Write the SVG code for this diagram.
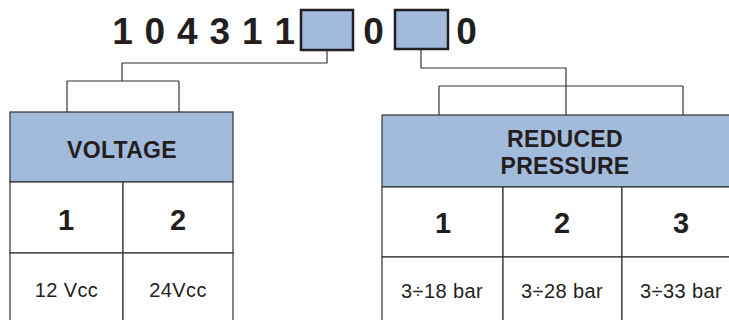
<svg xmlns="http://www.w3.org/2000/svg" width="729" height="320" viewBox="0 0 729 320">
<style>
.code{font-family:"Liberation Sans",Arial,sans-serif;font-weight:bold;font-size:37px;fill:#231f20;letter-spacing:0.8px}
.box{fill:#a2bbdb;stroke:#231f20;stroke-width:2.5}
.hdr{fill:#a2bbdb;stroke:#333;stroke-width:1.2}
.cell{fill:#fff;stroke:#333;stroke-width:1.2}
.ln{fill:none;stroke:#333;stroke-width:1.2}
.h{font-family:"Liberation Sans",Arial,sans-serif;font-weight:bold;font-size:23px;fill:#231f20;text-anchor:middle;letter-spacing:0.3px}
.d{font-family:"Liberation Sans",Arial,sans-serif;font-weight:bold;font-size:29px;fill:#231f20;text-anchor:middle}
.v{font-family:"Liberation Sans",Arial,sans-serif;font-size:20px;fill:#231f20;text-anchor:middle;letter-spacing:0.4px}
</style>
<rect width="729" height="320" fill="#fff"/>
<g id="code">
<text class="code" x="204" y="44" text-anchor="middle">1 0 4 3 1 1</text>
<rect class="box" x="301" y="10" width="52" height="40"/>
<text class="code" x="374" y="44" text-anchor="middle">0</text>
<rect class="box" x="395" y="10" width="53" height="39"/>
<text class="code" x="467" y="44" text-anchor="middle">0</text>
</g>
<g id="connectors">
<polyline class="ln" points="327,50 327,63 122,63 122,81"/>
<line class="ln" x1="67" y1="81" x2="179" y2="81"/>
<line class="ln" x1="67" y1="81" x2="67" y2="112"/>
<line class="ln" x1="179" y1="81" x2="179" y2="112"/>
<polyline class="ln" points="421,49 421,68 566,68 566,86"/>
<line class="ln" x1="439" y1="86" x2="683" y2="86"/>
<line class="ln" x1="439" y1="86" x2="439" y2="115"/>
<line class="ln" x1="566" y1="86" x2="566" y2="115"/>
<line class="ln" x1="683" y1="86" x2="683" y2="115"/>
</g>
<g id="voltage">
<rect class="hdr" x="10" y="112" width="223" height="70"/>
<rect class="cell" x="10" y="182" width="113" height="71"/>
<rect class="cell" x="123" y="182" width="110" height="71"/>
<rect class="cell" x="10" y="253" width="113" height="80"/>
<rect class="cell" x="123" y="253" width="110" height="80"/>
<text class="h" x="122" y="158">VOLTAGE</text>
<text class="d" x="66" y="230">1</text>
<text class="d" x="178" y="230">2</text>
<text class="v" x="66.5" y="297">12 Vcc</text>
<text class="v" x="178" y="297">24Vcc</text>
</g>
<g id="pressure">
<rect class="hdr" x="382" y="115" width="362" height="72"/>
<rect class="cell" x="382" y="187" width="121" height="70"/>
<rect class="cell" x="503" y="187" width="119" height="70"/>
<rect class="cell" x="622" y="187" width="122" height="70"/>
<rect class="cell" x="382" y="257" width="121" height="80"/>
<rect class="cell" x="503" y="257" width="119" height="80"/>
<rect class="cell" x="622" y="257" width="122" height="80"/>
<text class="h" x="565" y="146.5">REDUCED</text>
<text class="h" x="565" y="174">PRESSURE</text>
<text class="d" x="443" y="233">1</text>
<text class="d" x="562" y="233">2</text>
<text class="d" x="681" y="233">3</text>
<text class="v" x="442" y="298">3÷18 bar</text>
<text class="v" x="562" y="298">3÷28 bar</text>
<text class="v" x="681" y="298">3÷33 bar</text>
</g>
</svg>
